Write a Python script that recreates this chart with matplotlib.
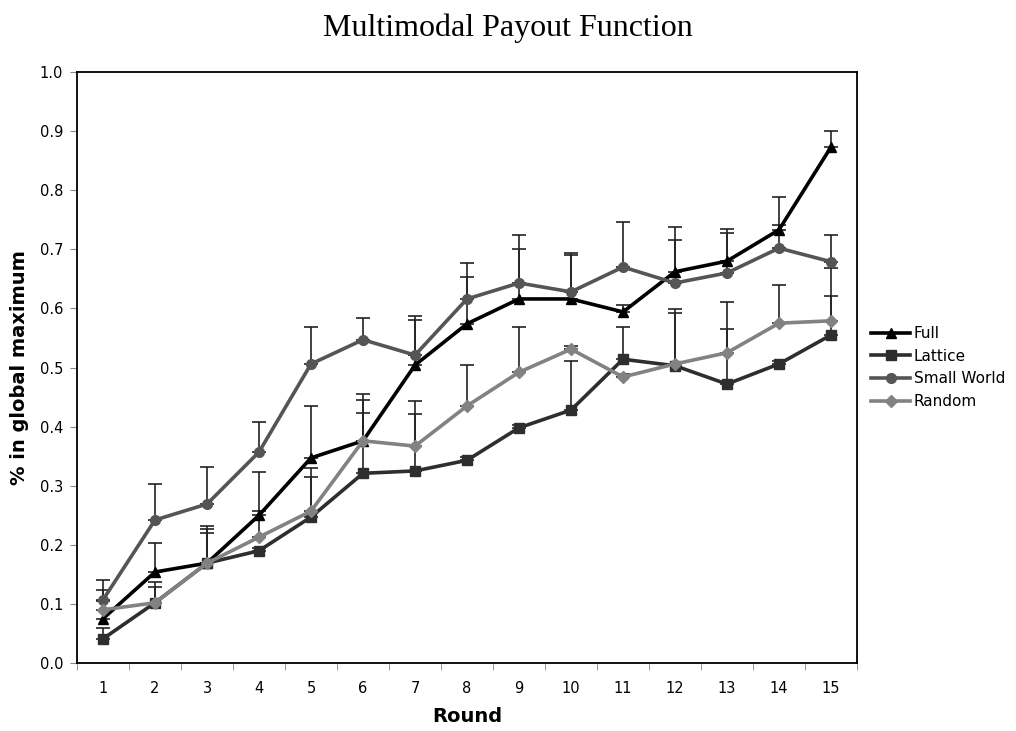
import numpy as np
import matplotlib
matplotlib.use("Agg")
import matplotlib.pyplot as plt

rounds = list(range(1, 16))

full = [0.075, 0.154, 0.169, 0.250, 0.347, 0.376, 0.504, 0.574, 0.616, 0.616,
        0.594, 0.662, 0.680, 0.733, 0.873]
lattice = [0.041, 0.102, 0.169, 0.190, 0.247, 0.321, 0.325, 0.343, 0.398, 0.428,
           0.514, 0.503, 0.472, 0.506, 0.555]
small_world = [0.107, 0.242, 0.269, 0.357, 0.506, 0.547, 0.521, 0.616, 0.643, 0.628,
               0.670, 0.643, 0.660, 0.702, 0.679]
random_net = [0.090, 0.102, 0.169, 0.213, 0.257, 0.376, 0.367, 0.435, 0.492, 0.531,
              0.484, 0.506, 0.525, 0.575, 0.579]

# upper error (one-sided) for each series
full_err = [0.048, 0.049, 0.063, 0.073, 0.088, 0.079, 0.076, 0.079, 0.084, 0.078,
            0.012, 0.075, 0.055, 0.056, 0.027]
lattice_err = [0.019, 0.035, 0.058, 0.005, 0.068, 0.102, 0.096, 0.005, 0.005, 0.083,
               0.055, 0.089, 0.093, 0.005, 0.066]
small_world_err = [0.033, 0.061, 0.063, 0.051, 0.062, 0.037, 0.066, 0.061, 0.081, 0.062,
                   0.077, 0.073, 0.068, 0.039, 0.045]
random_err = [0.015, 0.027, 0.051, 0.044, 0.073, 0.069, 0.077, 0.069, 0.077, 0.005,
              0.005, 0.093, 0.085, 0.065, 0.089]

series = [
    ("Full", full, full_err, "#000000", "^", 7),
    ("Lattice", lattice, lattice_err, "#2e2e2e", "s", 7),
    ("Small World", small_world, small_world_err, "#555555", "o", 7),
    ("Random", random_net, random_err, "#828282", "D", 6),
]

fig = plt.figure(figsize=(10.16, 7.31), dpi=100)
ax = fig.add_axes([0.0758, 0.093, 0.7677, 0.8085])

x = np.array(rounds)
for name, vals, err, color, marker, ms in series:
    ax.errorbar(x, vals, yerr=[np.zeros(len(err)), err], fmt="none",
                ecolor="#222222", elinewidth=1.2, capsize=5, capthick=1.2, zorder=1)
for name, vals, err, color, marker, ms in series:
    ax.plot(x, vals, color=color, marker=marker, markersize=ms, linewidth=2.6,
            label=name, zorder=3)

ax.set_xlim(0.5, 15.5)
ax.set_ylim(0, 1.0)
ax.set_yticks(np.arange(0, 1.01, 0.1))
ax.set_yticklabels([f"{v:.1f}" for v in np.arange(0, 1.01, 0.1)])
ax.set_xticks(rounds)
ax.set_xticks(np.arange(0.5, 15.6, 1), minor=True)
ax.tick_params(axis="x", which="major", length=0, pad=13, labelsize=10.5)
ax.tick_params(axis="x", which="minor", length=5, color="#888888")
ax.tick_params(axis="y", length=5, color="#888888", labelsize=10.5, pad=5)

for spine in ax.spines.values():
    spine.set_linewidth(1.3)

ax.set_xlabel("Round", fontsize=14, fontweight="bold", labelpad=8)
ax.set_ylabel("% in global maximum", fontsize=14, fontweight="bold", labelpad=8)
fig.suptitle("Multimodal Payout Function", fontsize=23, family="Liberation Serif",
             y=0.982)

ax.legend(loc="center left", bbox_to_anchor=(1.0, 0.5), frameon=False,
          fontsize=11, handlelength=2.6, handletextpad=0.2, labelspacing=0.5)

fig.savefig("out.png", dpi=100)
